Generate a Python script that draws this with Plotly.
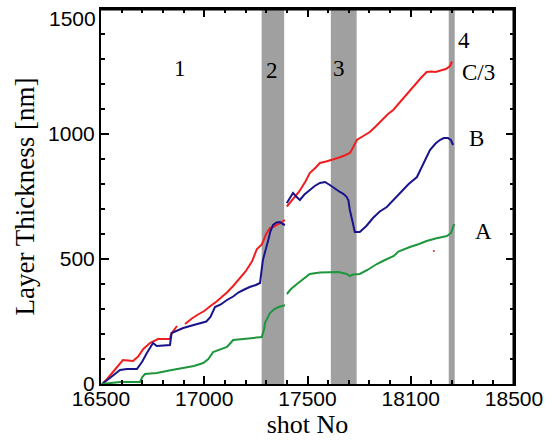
import plotly.graph_objects as go

# ---- data ----
c3_x = [16505, 16530, 16560, 16590, 16606, 16630, 16655, 16680, 16705, 16737, 16760, 16776, 16800, 16834,
        16840, 16855, 16868, None,
        16907, 16940, 16970, 17000, 17030, 17060, 17090, 17110, 17140, 17170, 17200, 17231, 17255, 17279,
        17300, 17318, 17333, 17360, 17391, None,
        17400, 17430, 17460, 17490, 17511, 17540, 17560, 17590, 17618, 17650, 17680, 17705, 17720, 17739,
        17770, 17802, 17830, 17860, 17890, 17915, 17940, 17970, 17996, 18020, 18050, 18077, 18100, 18120,
        18141, 18170, 18190, 18200]
c3_y = [0, 20, 50, 80, 96, 94, 92, 110, 140, 164, 172, 180, 180, 180,
        200, 215, 232, None,
        240, 262, 278, 292, 312, 330, 352, 366, 392, 420, 450, 490, 540, 558,
        600, 624, 628, 640, 656, None,
        710, 740, 770, 810, 844, 866, 884, 890, 896, 905, 914, 924, 945, 976,
        992, 1008, 1030, 1055, 1080, 1096, 1120, 1150, 1176, 1200, 1225, 1248, 1250, 1248,
        1252, 1260, 1272, 1290]

b_x = [16505, 16530, 16560, 16592, 16626, 16674, 16700, 16722, 16752, 16770, 16800, 16834,
       16842, 16870, 16898, 16940, 16979, 17010, 17030, 17052, 17080, 17110, 17140, 17165, 17189, 17220,
       17250, 17270, 17284, 17300, 17310, 17320, 17333, 17350, 17366, 17380, 17391, None,
       17400, 17415, 17430, 17445, 17463, 17485, 17511, 17535, 17560, 17585, 17608, 17630, 17657, 17675,
       17690, 17698, 17705, 17718, 17729, 17753, 17785, 17817, 17850, 17884, 17915, 17947, 17990, 18030,
       18060, 18093, 18120, 18141, 18160, 18180, 18195, 18205]
b_y = [0, 15, 35, 56, 60, 60, 90, 124, 164, 152, 155, 156,
       204, 214, 224, 234, 244, 250, 268, 308, 318, 336, 350, 366, 376, 388,
       396, 404, 496, 540, 576, 610, 636, 646, 648, 640, 636, None,
       724, 745, 764, 750, 736, 758, 776, 792, 804, 808, 796, 782, 768, 760,
       748, 735, 696, 650, 608, 608, 632, 664, 690, 708, 736, 764, 800, 828,
       880, 936, 962, 976, 984, 984, 975, 956]

a_x = [16505, 16530, 16560, 16592, 16640, 16689, 16700, 16713, 16740, 16771, 16830, 16898, 16950,
       16995, 17020, 17043, 17080, 17110, 17125, 17140, 17189, 17230, 17279,
       17290, 17294, 17318, 17340, 17360, 17380, 17391, None,
       17400, 17420, 17449, 17480, 17511, 17560, 17608, 17650, 17690, 17705, 17720, 17753, 17790, 17836,
       17870, 17900, 17918, 17940, 17970, 17996, 18040, 18077, 18120, 18175, 18195, 18210]
a_y = [0, 2, 5, 8, 8, 8, 28, 40, 42, 44, 54, 64, 72,
       84, 100, 128, 140, 148, 162, 176, 180, 184, 188,
       220, 244, 284, 300, 308, 312, 315, None,
       360, 380, 400, 420, 440, 446, 448, 448, 440, 432, 438, 440, 456, 480,
       494, 505, 512, 530, 540, 548, 560, 572, 582, 592, 604, 640]

stray_x = [18112]
stray_y = [532]

band_start = [17278, 17613, 18184]
band_end = [17387, 17738, 18213]

label_text = ["1", "2", "3", "4", "C/3", "B", "A"]
label_x = [16882, 17328, 17652, 18257, 18330, 18320, 18354]
label_y = [1264, 1256, 1264, 1376, 1248, 984, 612]

x_tickvals = [16500, 17000, 17500, 18000, 18500]
x_ticktext = ["16500", "17000", "17500", "18100", "18500"]
y_tickvals = [0, 500, 1000, 1500]
y_ticktext = ["0", "500", "1000", ""]
y_top_label = "1500"

RED = "rgb(240,30,30)"
BLUE = "rgb(25,20,140)"
GREEN = "rgb(30,150,60)"
GREY = "rgb(160,160,160)"

fig = go.Figure()
fig.add_trace(go.Scatter(x=c3_x, y=c3_y, mode="lines", line=dict(color=RED, width=2), connectgaps=False))
fig.add_trace(go.Scatter(x=b_x, y=b_y, mode="lines", line=dict(color=BLUE, width=2), connectgaps=False))
fig.add_trace(go.Scatter(x=a_x, y=a_y, mode="lines", line=dict(color=GREEN, width=2), connectgaps=False))
fig.add_trace(go.Scatter(x=stray_x, y=stray_y, mode="markers", marker=dict(color=RED, size=2)))

for s, e in zip(band_start, band_end):
    fig.add_shape(type="rect", xref="x", yref="paper", x0=s, x1=e, y0=0, y1=1,
                  fillcolor=GREY, line=dict(width=0), layer="below")

# plot frame: drawn as explicit lines on top and right
fig.add_shape(type="line", xref="paper", yref="paper", x0=0, x1=1, y0=1, y1=1,
              line=dict(color="black", width=3), layer="above")
fig.add_shape(type="line", xref="paper", yref="paper", x0=1, x1=1, y0=0, y1=1,
              line=dict(color="black", width=3), layer="above")

for t, x, y in zip(label_text, label_x, label_y):
    fig.add_annotation(x=x, y=y, text=t, showarrow=False,
                       font=dict(family="Liberation Serif", size=23, color="black"))

# top y tick label, drawn slightly below the axis end as in the reference
fig.add_annotation(xref="paper", yref="y", x=0, y=y_tickvals[-1], text=y_top_label, showarrow=False,
                   xanchor="right", yanchor="middle", xshift=-3, yshift=-9,
                   font=dict(family="Liberation Sans", size=21, color="black"))

axis_common = dict(showline=True, linecolor="black", linewidth=2, mirror="allticks",
                   ticks="inside", ticklen=8, tickwidth=2, tickcolor="black",
                   showgrid=False, zeroline=False, automargin=False,
                   ticklabeloverflow="allow",
                   tickfont=dict(family="Liberation Sans", size=21, color="black"))

fig.update_layout(
    width=557, height=448,
    margin=dict(l=101, r=43, t=9, b=64),
    paper_bgcolor="white", plot_bgcolor="white",
    showlegend=False,
    xaxis=dict(range=[16500, 18500], tickvals=x_tickvals, ticktext=x_ticktext,
               ticklabelstandoff=-5,
               minor=dict(dtick=100, tick0=16500, ticks="inside", ticklen=4, tickwidth=2, tickcolor="black"),
               title=dict(text="shot No", font=dict(family="Liberation Serif", size=26, color="black"), standoff=6),
               **axis_common),
    yaxis=dict(range=[0, 1500], tickvals=y_tickvals, ticktext=y_ticktext,
               minor=dict(dtick=100, tick0=0, ticks="inside", ticklen=4, tickwidth=2, tickcolor="black"),
               title=dict(text="Layer Thickness [nm]", font=dict(family="Liberation Serif", size=27, color="black"), standoff=6),
               **axis_common),
)

fig.write_html("out.html", config={"displayModeBar": False},
               post_script="document.body.style.margin='0';document.body.style.overflow='hidden';")
